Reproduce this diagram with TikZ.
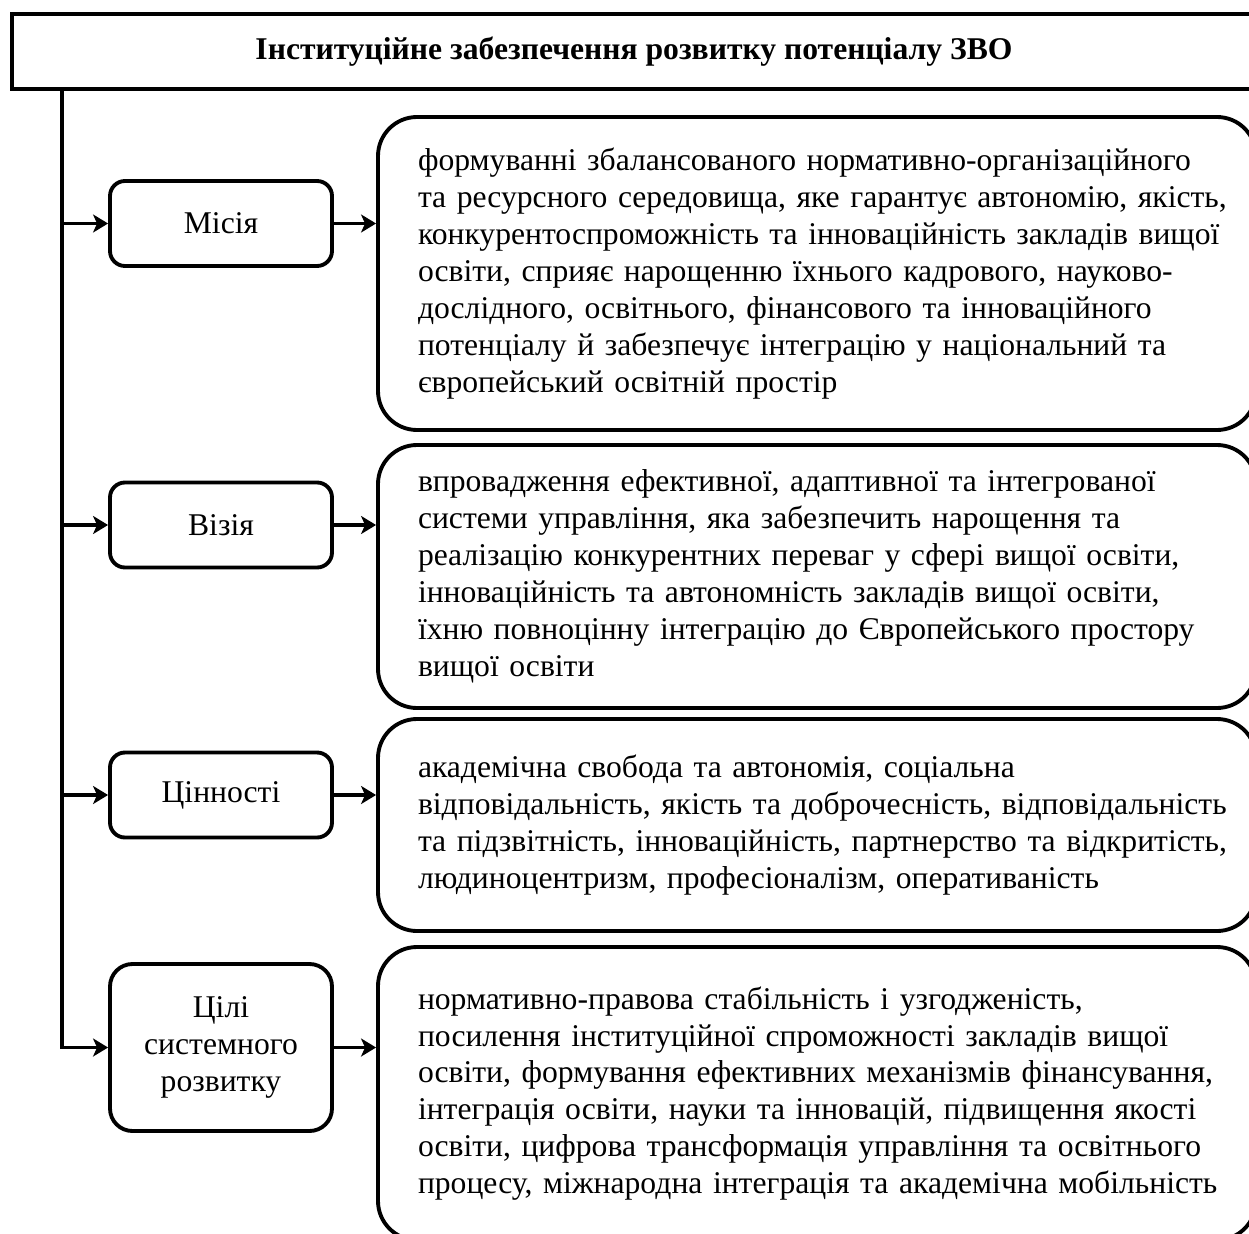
\documentclass[tikz,border=0pt]{standalone}
\usepackage{fontspec}
\setmainfont{Liberation Serif}
\usetikzlibrary{arrows.meta}

\tikzset{
  every node/.style={font=\fontsize{18}{21}\selectfont},
  arr/.style={line width=2.2pt,-{Stealth[length=0.3cm,width=0.36cm,inset=0.08cm]}},
  titlebox/.style={draw,line width=2.2pt,minimum width=24.88cm,minimum height=1.5cm,inner sep=0pt},
  namebox/.style={draw,line width=2.2pt,rounded corners=0.3cm,minimum width=4.44cm,align=center,inner sep=0pt},
  textbox/.style={draw,line width=2.2pt,rounded corners=0.78cm,inner xsep=0.8cm,inner ysep=0pt,
    text width=15.96cm,align=left,execute at begin node={\rightskip=0pt plus 1fil minus 1cm}}
}

\begin{document}
\begin{tikzpicture}[scale=1]
  \useasboundingbox (0,0) rectangle (24.98,-24.66);
  \clip (0,0) rectangle (24.98,-24.66);

  % heading
  \node[titlebox] (title) at (12.68,-1.03) {\textbf{Інституційне забезпечення розвитку потенціалу ЗВО}};
  \coordinate (trunk) at (1.24,-1.78);

  % left column
  \node[namebox,minimum height=1.7cm] (mis) at (4.42,-4.47) {Місія};
  \node[namebox,minimum height=1.7cm] (viz) at (4.42,-10.5) {Візія};
  \node[namebox,minimum height=1.7cm] (val) at (4.42,-15.9) {Цінності};
  \node[namebox,minimum height=3.34cm,rounded corners=0.45cm] (goal) at (4.42,-20.95) {Цілі\\системного\\розвитку};

  % right column
  \node[textbox,minimum height=6.26cm] (misd) at (16.34,-5.47) {формуванні збалансованого нормативно-організаційного\\
    та ресурсного середовища, яке гарантує автономію, якість,\\
    конкурентоспроможність та інноваційність закладів вищої\\
    освіти, сприяє нарощенню їхнього кадрового, науково-\\
    дослідного, освітнього, фінансового та  інноваційного\\
    потенціалу й забезпечує інтеграцію у національний та\\
    європейський освітній простір};
  \node[textbox,minimum height=5.26cm] (vizd) at (16.34,-11.53) {впровадження ефективної, адаптивної та інтегрованої\\
    системи управління, яка забезпечить нарощення та\\
    реалізацію конкурентних переваг у сфері вищої освіти,\\
    інноваційність та автономність закладів вищої освіти,\\
    їхню повноцінну інтеграцію до Європейського простору\\
    вищої освіти};
  \node[textbox,minimum height=4.24cm] (vald) at (16.34,-16.5) {академічна свобода та автономія, соціальна\\
    відповідальність, якість та доброчесність, відповідальність\\
    та підзвітність, інноваційність, партнерство та відкритість,\\
    людиноцентризм, професіоналізм, оперативаність};
  \node[textbox,minimum height=5.86cm] (goald) at (16.34,-21.87) {нормативно-правова стабільність і узгодженість,\\
    посилення інституційної спроможності закладів вищої\\
    освіти, формування ефективних механізмів фінансування,\\
    інтеграція освіти, науки та інновацій, підвищення якості\\
    освіти, цифрова трансформація управління та освітнього\\
    процесу, міжнародна інтеграція та академічна мобільність};

  % connectors
  \draw[arr] (trunk) |- (goal.west);
  \draw[arr] (mis.west -| trunk) -- (mis.west);
  \draw[arr] (viz.west -| trunk) -- (viz.west);
  \draw[arr] (val.west -| trunk) -- (val.west);
  \draw[arr] (mis.east) -- (mis.east -| misd.west);
  \draw[arr] (viz.east) -- (viz.east -| vizd.west);
  \draw[arr] (val.east) -- (val.east -| vald.west);
  \draw[arr] (goal.east) -- (goal.east -| goald.west);
\end{tikzpicture}
\end{document}
